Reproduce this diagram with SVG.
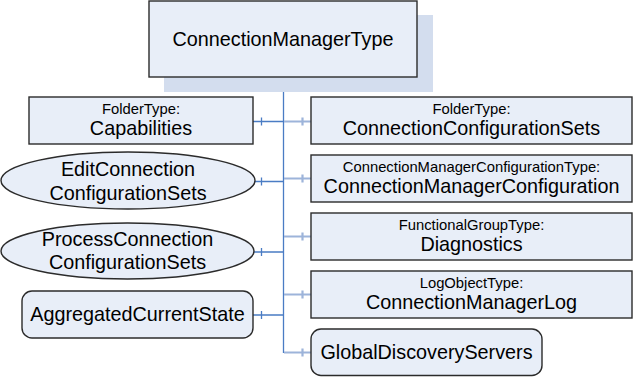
<svg xmlns="http://www.w3.org/2000/svg" width="633" height="377" viewBox="0 0 633 377">
<style>
.n{fill:#E8EEF8;stroke:#2B2B2B;stroke-width:1.4}
.sh{fill:#D3DDEE;stroke:none}
.t{font-family:"Liberation Sans",Arial,sans-serif;fill:#000;text-anchor:middle}
.s{font-size:14.8px}
.l{font-size:19.8px}
.cl{stroke:#4A7CC4;stroke-width:1.3;fill:none}
.cr{stroke:#9DB4DA;stroke-width:2.2;fill:none}
</style>
<rect width="633" height="377" fill="#fff"/>
<g id="connectors">
<path class="cl" d="M283.5 77 V353"/>
<path class="cl" d="M253 121.5 H283.5 M261.5 117.5 V125.5"/>
<path class="cl" d="M255 181.5 H283.5 M261.5 177.5 V185.5"/>
<path class="cl" d="M254 252 H283.5 M261.5 248 V256"/>
<path class="cl" d="M253 315 H283.5 M261.5 311 V319"/>
<path class="cr" d="M284 121.5 H311 M302.5 117.5 V125.5"/>
<path class="cr" d="M284 178.5 H311 M302.5 174.5 V182.5"/>
<path class="cr" d="M284 236.5 H311 M302.5 232.5 V240.5"/>
<path class="cr" d="M284 294.5 H311 M302.5 290.5 V298.5"/>
<path class="cr" d="M284 352.5 H311 M302.5 348.5 V356.5"/>
</g>
<g id="ConnectionManagerType">
<rect class="sh" x="164" y="15" width="269" height="77"/>
<rect class="n" x="149" y="1" width="268" height="76"/>
<text class="t l" x="283" y="45.5">ConnectionManagerType</text>
</g>
<g id="Capabilities">
<rect class="n" x="29" y="97" width="224" height="47"/>
<text class="t s" x="141" y="113.5">FolderType:</text>
<text class="t l" x="141" y="135">Capabilities</text>
</g>
<g id="EditConnectionConfigurationSets">
<ellipse class="n" cx="128" cy="180.5" rx="127" ry="28.5"/>
<text class="t l" x="128" y="176">EditConnection</text>
<text class="t l" x="128" y="200">ConfigurationSets</text>
</g>
<g id="ProcessConnectionConfigurationSets">
<ellipse class="n" cx="127.5" cy="251" rx="126.5" ry="28"/>
<text class="t l" x="127.5" y="246">ProcessConnection</text>
<text class="t l" x="127.5" y="268.5">ConfigurationSets</text>
</g>
<g id="AggregatedCurrentState">
<rect class="n" x="22" y="291" width="231" height="47" rx="10"/>
<text class="t l" x="137.5" y="321">AggregatedCurrentState</text>
</g>
<g id="ConnectionConfigurationSets">
<rect class="n" x="311" y="97" width="321" height="47"/>
<text class="t s" x="471.5" y="113.5">FolderType:</text>
<text class="t l" x="471.5" y="135">ConnectionConfigurationSets</text>
</g>
<g id="ConnectionManagerConfiguration">
<rect class="n" x="311" y="155" width="321" height="47"/>
<text class="t s" x="471.5" y="171.5">ConnectionManagerConfigurationType:</text>
<text class="t l" x="471.5" y="192.5">ConnectionManagerConfiguration</text>
</g>
<g id="Diagnostics">
<rect class="n" x="311" y="213" width="321" height="47"/>
<text class="t s" x="471.5" y="229.5">FunctionalGroupType:</text>
<text class="t l" x="471.5" y="250.5">Diagnostics</text>
</g>
<g id="ConnectionManagerLog">
<rect class="n" x="311" y="271" width="321" height="47"/>
<text class="t s" x="471.5" y="287.5">LogObjectType:</text>
<text class="t l" x="471.5" y="309">ConnectionManagerLog</text>
</g>
<g id="GlobalDiscoveryServers">
<rect class="n" x="311" y="329" width="231" height="46.5" rx="10"/>
<text class="t l" x="426.5" y="359">GlobalDiscoveryServers</text>
</g>
</svg>
